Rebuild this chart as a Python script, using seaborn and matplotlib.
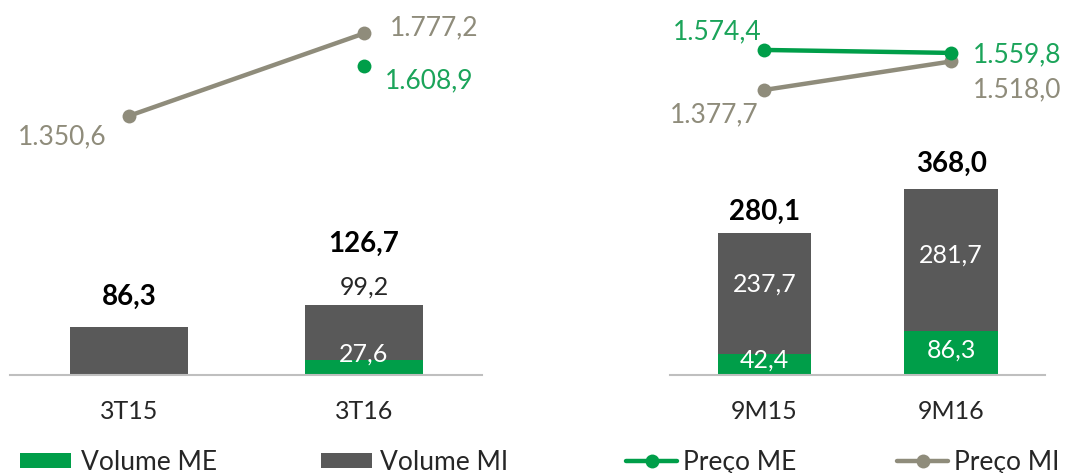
import numpy as np
import matplotlib
matplotlib.use("Agg")
import matplotlib.pyplot as plt
import seaborn as sns
from matplotlib.patches import Patch
from matplotlib.lines import Line2D

# dados
periodos_tri = ["3T15", "3T16"]
volume_me_tri = [0.0, 27.6]
volume_mi_tri = [86.3, 99.2]
volume_total_tri = [86.3, 126.7]
preco_me_tri = [np.nan, 1608.9]
preco_mi_tri = [1350.6, 1777.2]

periodos_9m = ["9M15", "9M16"]
volume_me_9m = [42.4, 86.3]
volume_mi_9m = [237.7, 281.7]
volume_total_9m = [280.1, 368.0]
preco_me_9m = [1574.4, 1559.8]
preco_mi_9m = [1377.7, 1518.0]

VERDE = "#009E49"
CINZA = "#595959"
OLIVA = "#8F8C7B"
OLIVA_TXT = "#8F8C7B"
VERDE_TXT = "#1BA45A"

sns.set_theme(style="white")
plt.rcParams['font.family'] = ['Lato', 'DejaVu Sans']


def fmt(v):
    return f"{v:,.1f}".replace(",", "X").replace(".", ",").replace("X", ".")


W, H = 1091, 473
fig = plt.figure(figsize=(W / 100, H / 100), dpi=100)


def painel(x0, x1, ylim_vol, ylim_preco, cats, me, mi, total, p_me, p_mi,
           off_total, mi_fora, off_me_lbl, off_mi_lbl):
    ax = fig.add_axes([x0 / W, (H - 375) / H, (x1 - x0) / W, 375 / H])
    sns.barplot(x=cats, y=total, color=CINZA, width=0.5, saturation=1,
                edgecolor="none", linewidth=0, ax=ax)
    sns.barplot(x=cats, y=me, color=VERDE, width=0.5, saturation=1,
                edgecolor="none", linewidth=0, ax=ax)
    ax.set_xlim(-0.505, 1.502)
    ax.set_ylim(*ylim_vol)
    for s in ["top", "left", "right"]:
        ax.spines[s].set_visible(False)
    ax.spines["bottom"].set_color("#BFBFBF")
    ax.spines["bottom"].set_linewidth(1.5)
    ax.set_yticks([])
    ax.set_xlabel("")
    ax.set_ylabel("")
    ax.tick_params(axis="x", length=0, pad=18, labelsize=18, labelcolor="#262626")

    for i in range(len(cats)):
        ax.annotate(fmt(total[i]), (i, total[i]), xytext=(0, off_total[i]),
                    textcoords="offset pixels", ha="center", va="center",
                    fontsize=20, fontweight="bold", color="black")
        if me[i] > 0:
            ax.annotate(fmt(me[i]), (i, me[i] / 2), xytext=(0, off_me_lbl[i]),
                        textcoords="offset pixels", ha="center", va="center",
                        fontsize=18, color="white")
            if mi_fora:
                ax.annotate(fmt(mi[i]), (i, total[i]), xytext=(0, 17),
                            textcoords="offset pixels", ha="center", va="center",
                            fontsize=18, color="#262626")
            else:
                ax.annotate(fmt(mi[i]), (i, me[i] + mi[i] / 2), xytext=(0, off_mi_lbl[i]),
                            textcoords="offset pixels", ha="center", va="center",
                            fontsize=18, color="white")

    ax2 = ax.twinx()
    x = list(range(len(cats)))
    sns.lineplot(x=x, y=p_mi, color=OLIVA, lw=3.2, marker="o", markersize=10,
                 markeredgewidth=0, ax=ax2)
    sns.lineplot(x=x, y=p_me, color=VERDE, lw=3.2, marker="o", markersize=10,
                 markeredgewidth=0, ax=ax2)
    ax2.set_ylim(*ylim_preco)
    ax2.set_xlim(-0.505, 1.502)
    ax2.axis("off")
    return ax2


# painel trimestral
a = painel(10, 482, (0, 674), (11, 1950), periodos_tri, volume_me_tri, volume_mi_tri,
           volume_total_tri, preco_me_tri, preco_mi_tri,
           off_total=[30, 61], mi_fora=True, off_me_lbl=[0, 13], off_mi_lbl=[0, 0])
a.annotate(fmt(preco_mi_tri[0]), (0, preco_mi_tri[0]), xytext=(-22, -21),
           textcoords="offset pixels", ha="right", va="center", fontsize=19, color=OLIVA_TXT)
a.annotate(fmt(preco_mi_tri[1]), (1, preco_mi_tri[1]), xytext=(26, 6),
           textcoords="offset pixels", ha="left", va="center", fontsize=19, color=OLIVA_TXT)
a.annotate(fmt(preco_me_tri[1]), (1, preco_me_tri[1]), xytext=(21, -15),
           textcoords="offset pixels", ha="left", va="center", fontsize=19, color=VERDE_TXT)

# painel acumulado
b = painel(670, 1045, (0, 740), (-24, 1820), periodos_9m, volume_me_9m, volume_mi_9m,
           volume_total_9m, preco_me_9m, preco_mi_9m,
           off_total=[21, 25], mi_fora=False, off_me_lbl=[4, 3], off_mi_lbl=[9, 5])
b.annotate(fmt(preco_me_9m[0]), (0, preco_me_9m[0]), xytext=(-3, 18),
           textcoords="offset pixels", ha="right", va="center", fontsize=19, color=VERDE_TXT)
b.annotate(fmt(preco_mi_9m[0]), (0, preco_mi_9m[0]), xytext=(-6, -25),
           textcoords="offset pixels", ha="right", va="center", fontsize=19, color=OLIVA_TXT)
b.annotate(fmt(preco_me_9m[1]), (1, preco_me_9m[1]), xytext=(22, -2),
           textcoords="offset pixels", ha="left", va="center", fontsize=19, color=VERDE_TXT)
b.annotate(fmt(preco_mi_9m[1]), (1, preco_mi_9m[1]), xytext=(22, -28),
           textcoords="offset pixels", ha="left", va="center", fontsize=19, color=OLIVA_TXT)

# legenda
itens = [
    (20, Patch(facecolor=VERDE, edgecolor="none"), "Volume ME", 0.35),
    (321, Patch(facecolor=CINZA, edgecolor="none"), "Volume MI", 0.3),
    (626, Line2D([], [], color=VERDE, lw=3.2, marker="o", markersize=10, markeredgewidth=0), "Preço ME", 0.2),
    (897, Line2D([], [], color=OLIVA, lw=3.2, marker="o", markersize=10, markeredgewidth=0), "Preço MI", 0.2),
]
for xpos, h, lbl, pad in itens:
    fig.legend([h], [lbl], loc="center left", bbox_to_anchor=(xpos / W, 1 - 462 / H),
               frameon=False, fontsize=19, handlelength=1.95, handleheight=0.5,
               handletextpad=pad, borderpad=0, borderaxespad=0, labelcolor="#262626")

fig.savefig("out.png", dpi=100)
